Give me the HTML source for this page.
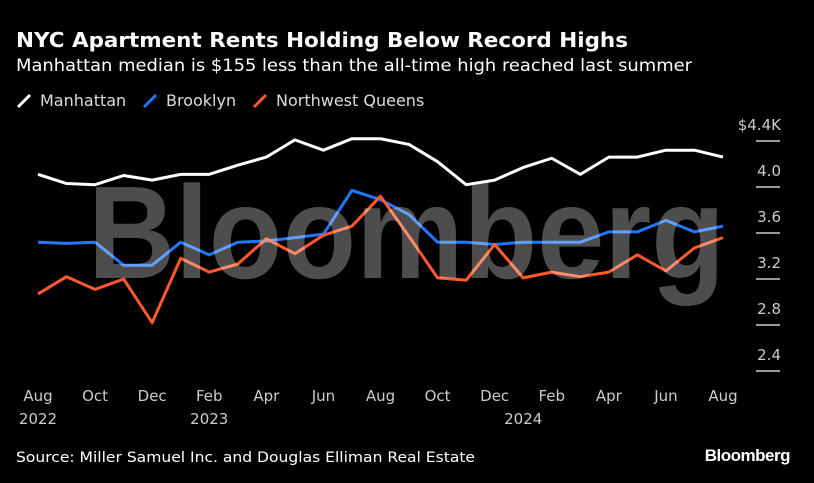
<!DOCTYPE html>
<html><head><meta charset="utf-8"><style>
body{margin:0;background:#000;width:814px;height:483px;overflow:hidden;font-family:"DejaVu Sans",sans-serif;}
svg{display:block}
</style></head><body>
<svg width="814" height="483" font-family="DejaVu Sans, sans-serif">
<text x="16" y="47" fill="#fff" font-size="20" font-weight="bold" textLength="612" lengthAdjust="spacingAndGlyphs">NYC Apartment Rents Holding Below Record Highs</text>
<text x="16" y="71" fill="#fff" font-size="16.5" textLength="676" lengthAdjust="spacingAndGlyphs">Manhattan median is $155 less than the all-time high reached last summer</text>
<g id="legend"></g>
<g id="yaxis"></g>
<g id="xaxis"></g>
<g id="lines"></g>
<text x="88" y="278" fill="#fff" fill-opacity="0.3" font-family="Liberation Sans, sans-serif" font-size="132" font-weight="bold" textLength="637" lengthAdjust="spacingAndGlyphs">Bloomberg</text>
<text x="16" y="462" fill="#fff" font-size="14.5" textLength="459" lengthAdjust="spacingAndGlyphs">Source: Miller Samuel Inc. and Douglas Elliman Real Estate</text>
<text x="790" y="461" fill="#fff" font-family="Liberation Sans, sans-serif" font-size="17" font-weight="bold" text-anchor="end" letter-spacing="-0.5">Bloomberg</text>
</svg>
<script>
const months=["Aug","Sep","Oct","Nov","Dec","Jan","Feb","Mar","Apr","May","Jun","Jul","Aug","Sep","Oct","Nov","Dec","Jan","Feb","Mar","Apr","May","Jun","Jul","Aug"];
const xLabels=["Aug","Oct","Dec","Feb","Apr","Jun","Aug","Oct","Dec","Feb","Apr","Jun","Aug"];
const yearLabels={0:"2022",6:"2023",17:"2024"};
const yTicks=[2.4,2.8,3.2,3.6,4.0,4.4];
const manhattan=[4.11,4.03,4.02,4.10,4.06,4.11,4.11,4.19,4.26,4.41,4.32,4.42,4.42,4.37,4.22,4.02,4.06,4.17,4.25,4.11,4.26,4.26,4.32,4.32,4.26];
const brooklyn=[3.52,3.51,3.52,3.32,3.32,3.52,3.41,3.52,3.53,3.56,3.59,3.97,3.89,3.76,3.52,3.52,3.50,3.52,3.52,3.52,3.61,3.61,3.71,3.61,3.66];
const queens=[3.07,3.22,3.11,3.20,2.82,3.38,3.26,3.33,3.55,3.42,3.58,3.66,3.92,3.57,3.21,3.19,3.50,3.21,3.26,3.22,3.26,3.41,3.27,3.47,3.56];
const series=[{name:"Manhattan",data:manhattan,color:"#ffffff"},{name:"Brooklyn",data:brooklyn,color:"#1f78ff"},{name:"Northwest Queens",data:queens,color:"#ff5a2a"}];
const NS="http://www.w3.org/2000/svg";
const x=i=>38+i*(723-38)/(months.length-1);
const y=v=>187-(v-4.0)*115;
function mk(tag,attrs,parent){const e=document.createElementNS(NS,tag);for(const k in attrs)e.setAttribute(k,attrs[k]);parent.appendChild(e);return e;}
const ya=document.getElementById('yaxis');
yTicks.forEach(t=>{
 const l=mk('line',{x1:756,x2:780,y1:y(t),y2:y(t),stroke:'#ccc','stroke-width':1.5},ya);
 
 
 const tx=mk('text',{x:781,y:y(t)-11,fill:'#ccc','font-size':15,'text-anchor':'end'},ya);
 tx.textContent=(t===4.4?'$4.4K':t.toFixed(1));
 
 
});
const xa=document.getElementById('xaxis');
xLabels.forEach((m,j)=>{
 const i=j*2;
 const tx=mk('text',{x:x(i),y:401,fill:'#ccc','font-size':15,'text-anchor':'middle'},xa);
 tx.textContent=m;
 
 
});
Object.keys(yearLabels).forEach(i=>{
 const tx=mk('text',{x:x(+i),y:424,fill:'#ccc','font-size':15,'text-anchor':'middle'},xa);
 tx.textContent=yearLabels[i];
 
 
});
const lg=document.getElementById('lines');
series.forEach(s=>{
 const p=mk('polyline',{points:s.data.map((v,i)=>x(i)+','+y(v)).join(' '),fill:'none',stroke:s.color,'stroke-width':3,'stroke-linejoin':'round'},lg);
 
 
});
const leg=document.getElementById('legend');
const lx=[16,142,252];
series.forEach((s,k)=>{
 const g=mk('g',{},leg);
 
 
 mk('line',{x1:lx[k]+2,y1:107,x2:lx[k]+14,y2:95,stroke:s.color,'stroke-width':3},g);
 const t=mk('text',{x:lx[k]+24,y:106,fill:'#ddd','font-size':16},g);
 t.textContent=s.name;
});
</script>
</body></html>
